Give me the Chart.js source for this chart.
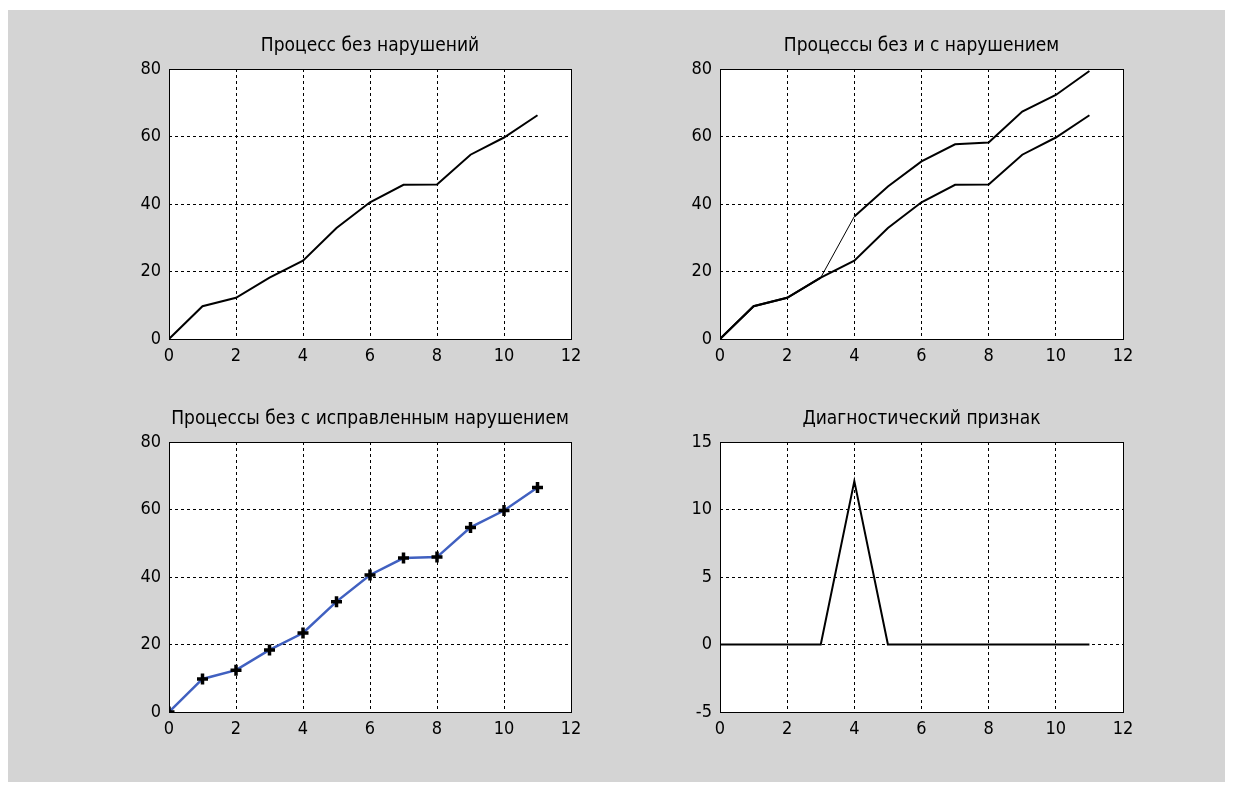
<!DOCTYPE html>
<html>
<head>
<meta charset="utf-8">
<script src="https://cdn.jsdelivr.net/npm/chart.js@4.4.1/dist/chart.umd.min.js"></script>
<style>
  html, body { margin: 0; padding: 0; background: #fff; }
  #fig { position: absolute; left: 8px; top: 10px; width: 1217px; height: 772px; background: #d4d4d4; }
  .ax { position: absolute; }
</style>
</head>
<body>
<div id="fig"></div>
<canvas id="c1" class="ax" style="left:100px;top:20px"></canvas>
<canvas id="c2" class="ax" style="left:651px;top:20px"></canvas>
<canvas id="c3" class="ax" style="left:100px;top:393px"></canvas>
<canvas id="c4" class="ax" style="left:651px;top:393px"></canvas>
<script>
// данные
const t = [0, 1, 2, 3, 4, 5, 6, 7, 8, 9, 10, 11];
const normal = [0, 9.7, 12.2, 18.2, 23.2, 32.9, 40.5, 45.7, 45.8, 54.6, 59.7, 66.3];
const faulty = [0, 9.7, 12.2, 18.2, 36.3, 45.2, 52.6, 57.7, 58.2, 67.4, 72.3, 79.4];
const corrected = [0, 9.8, 12.4, 18.4, 23.4, 32.7, 40.6, 45.6, 45.9, 54.7, 59.7, 66.5];
const diag = [0, 0, 0, 0, 12.1, 0, 0, 0, 0, 0, 0, 0];

const xTicks = [0, 2, 4, 6, 8, 10, 12];
const yTicksProc = [0, 20, 40, 60, 80];
const yTicksDiag = [-5, 0, 5, 10, 15];

const titles = [
    'Процесс без нарушений',
    'Процессы без и с нарушением',
    'Процессы без с исправленным нарушением',
    'Диагностический признак'
];

const FONT = '"DejaVu Sans Condensed", "DejaVu Sans", sans-serif';
Chart.defaults.font.family = FONT;
Chart.defaults.color = '#000';

const pts = (ys) => t.map((x, i) => ({ x: x, y: ys[i] }));

// белое поле и рамка вокруг области графика
const boxPlugin = {
    id: 'box',
    beforeDraw(chart) {
        const a = chart.chartArea, c = chart.ctx;
        c.save();
        c.fillStyle = '#fff';
        c.fillRect(a.left, a.top, a.right - a.left, a.bottom - a.top);
        c.restore();
    },
    afterDraw(chart) {
        const a = chart.chartArea, c = chart.ctx;
        c.save();
        c.strokeStyle = '#000';
        c.lineWidth = 1;
        c.strokeRect(Math.round(a.left) + 0.5, Math.round(a.top) + 0.5,
            Math.round(a.right - a.left), Math.round(a.bottom - a.top));
        c.restore();
    }
};

function makeChart(id, title, datasets, yTicks, plotW) {
    const cv = document.getElementById(id);
    const yMin = yTicks[0], yMax = yTicks[yTicks.length - 1];
    return new Chart(cv, {
        type: 'line',
        data: { datasets: datasets },
        options: {
            responsive: false,
            animation: false,
            layout: { padding: { top: 15, right: 500 - 69 - plotW, left: 0, bottom: 0 } },
            plugins: {
                legend: { display: false },
                tooltip: { enabled: false },
                title: {
                    display: true, text: title, color: '#000', fullSize: false,
                    font: { size: 19, weight: 'normal' },
                    padding: { top: 0, bottom: 11.2 }
                }
            },
            elements: { line: { tension: 0 } },
            scales: {
                x: {
                    type: 'linear', min: 0, max: 12,
                    afterBuildTicks: (s) => { s.ticks = xTicks.map(v => ({ value: v })); },
                    afterFit: (s) => { s.height = 51; },
                    grid: {
                        color: (ctx) => (ctx.tick && (ctx.tick.value === 0 || ctx.tick.value === 12)) ? 'rgba(0,0,0,0)' : '#000',
                        lineWidth: 1, drawTicks: false
                    },
                    border: { display: false, dash: [3, 3] },
                    ticks: { padding: 7, font: { size: 18 }, color: '#000', maxRotation: 0 }
                },
                y: {
                    type: 'linear', min: yMin, max: yMax,
                    afterBuildTicks: (s) => { s.ticks = yTicks.map(v => ({ value: v })); },
                    afterFit: (s) => { s.width = 69; },
                    grid: {
                        color: (ctx) => (ctx.tick && (ctx.tick.value === yMin || ctx.tick.value === yMax)) ? 'rgba(0,0,0,0)' : '#000',
                        lineWidth: 1, drawTicks: false
                    },
                    border: { display: false, dash: [3, 3] },
                    ticks: { padding: 8, font: { size: 18 }, color: '#000' }
                }
            }
        },
        plugins: [boxPlugin]
    });
}

function size(id, w) {
    const cv = document.getElementById(id);
    cv.width = w; cv.height = 370;
    cv.style.width = w + 'px'; cv.style.height = '370px';
}
size('c1', 500); size('c2', 500); size('c3', 500); size('c4', 500);

const blackLine = (ys) => ({
    data: pts(ys), borderColor: '#000', borderWidth: 2, pointRadius: 0, fill: false
});

makeChart('c1', titles[0], [blackLine(normal)], yTicksProc, 402);

makeChart('c2', titles[1], [
    blackLine(normal),
    Object.assign(blackLine(faulty), {
        segment: { borderWidth: (ctx) => ctx.p0DataIndex === 3 ? 1 : 2 }
    })
], yTicksProc, 403);

makeChart('c3', titles[2], [{
    data: pts(corrected), borderColor: 'rgb(64,96,192)', borderWidth: 2.5,
    pointStyle: 'cross', pointRadius: 5.5, pointBorderWidth: 3.5,
    pointBorderColor: '#000', pointBackgroundColor: '#000', fill: false
}], yTicksProc, 402);

makeChart('c4', titles[3], [blackLine(diag)], yTicksDiag, 403);
</script>
</body>
</html>
